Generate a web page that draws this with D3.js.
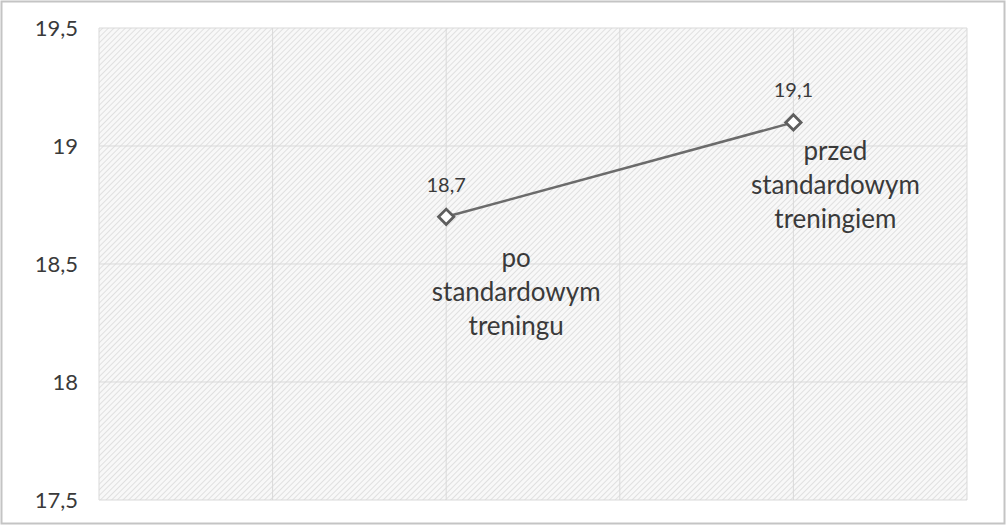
<!DOCTYPE html>
<html>
<head>
<meta charset="utf-8">
<script src="https://cdn.jsdelivr.net/npm/d3@7"></script>
<style>
  html, body { margin: 0; padding: 0; background: #fff; }
  text { font-family: Lato, "Open Sans", sans-serif; fill: #3a3a3a; }
</style>
</head>
<body>
<div id="chart"></div>
<script>
// values
const categories = ['po standardowym treningu', 'przed standardowym treningiem'];
const xValues = [2, 4];
const yValues = [18.7, 19.1];
const yTicks = [17.5, 18, 18.5, 19, 19.5];
const xTicks = [0, 1, 2, 3, 4, 5];

const width = 1007, height = 526;
const margin = { top: 28, right: 40, bottom: 26, left: 99 };

const svg = d3.select('#chart')
  .append('svg')
  .attr('width', width)
  .attr('height', height);

// outer frame
svg.append('rect')
  .attr('x', 1.5).attr('y', 1.5)
  .attr('width', width - 4).attr('height', height - 4)
  .attr('fill', '#fff')
  .attr('stroke', '#c4c4c4')
  .attr('stroke-width', 2);

// hatch pattern for the plot area
const pat = svg.append('defs').append('pattern')
  .attr('id', 'hatch')
  .attr('patternUnits', 'userSpaceOnUse')
  .attr('width', 4).attr('height', 4)
  .attr('patternTransform', 'rotate(45)');
pat.append('rect').attr('width', 4).attr('height', 4).attr('fill', '#f8f8f8');
pat.append('line')
  .attr('x1', 0).attr('y1', 0).attr('x2', 0).attr('y2', 4)
  .attr('stroke', '#e0e0e0').attr('stroke-width', 2);

const x = d3.scaleLinear().domain([0, 5]).range([margin.left, width - margin.right]);
const y = d3.scaleLinear().domain([17.5, 19.5]).range([height - margin.bottom, margin.top]);

const g = svg.append('g');

g.append('rect')
  .attr('x', x(0)).attr('y', y(19.5))
  .attr('width', x(5) - x(0)).attr('height', y(17.5) - y(19.5))
  .attr('fill', 'url(#hatch)');

// grid
g.selectAll('.hgrid')
  .data(yTicks)
  .enter()
  .append('line')
  .attr('class', 'hgrid')
  .attr('x1', x(0)).attr('x2', x(5))
  .attr('y1', d => y(d)).attr('y2', d => y(d))
  .attr('stroke', '#d9d9d9')
  .attr('stroke-width', 1);

g.selectAll('.vgrid')
  .data(xTicks)
  .enter()
  .append('line')
  .attr('class', 'vgrid')
  .attr('x1', d => x(d)).attr('x2', d => x(d))
  .attr('y1', y(17.5)).attr('y2', y(19.5))
  .attr('stroke', '#d9d9d9')
  .attr('stroke-width', 1);

// y axis labels only
const yAxis = d3.axisLeft(y)
  .tickValues(yTicks)
  .tickSize(0)
  .tickPadding(21)
  .tickFormat(d => d3.format('.1f')(d).replace('.', ',').replace(',0', ''));

const ya = svg.append('g')
  .attr('transform', `translate(${x(0)},0)`)
  .call(yAxis);
ya.select('.domain').remove();
ya.selectAll('text')
  .attr('font-size', 22)
  .style('font-family', 'Lato, "Open Sans", sans-serif')
  .attr('fill', '#3a3a3a');

const pts = xValues.map((v, i) => ({ x: v, y: yValues[i], name: categories[i] }));

// line
g.append('path')
  .datum(pts)
  .attr('fill', 'none')
  .attr('stroke', '#6b6b6b')
  .attr('stroke-width', 2.5)
  .attr('d', d3.line().x(d => x(d.x)).y(d => y(d.y)));

// diamond markers
g.selectAll('.marker')
  .data(pts)
  .enter()
  .append('path')
  .attr('class', 'marker')
  .attr('d', d3.symbol(d3.symbolDiamond2, 150))
  .attr('transform', d => `translate(${x(d.x)},${y(d.y)})`)
  .attr('fill', '#fff')
  .attr('stroke', '#5e5e5e')
  .attr('stroke-width', 2.8);

// value labels
g.selectAll('.val')
  .data(pts)
  .enter()
  .append('text')
  .attr('class', 'val')
  .attr('x', d => x(d.x))
  .attr('y', d => y(d.y) - 25)
  .attr('text-anchor', 'middle')
  .attr('font-size', 20)
  .text(d => d3.format('.1f')(d.y).replace('.', ','));

// category labels (offsets as in the original)
const labelShift = [[70, 50], [42, 38]];
const wrapLines = ['po|standardowym|treningu', 'przed|standardowym|treningiem'];

g.selectAll('.cat')
  .data(pts)
  .enter()
  .append('text')
  .attr('class', 'cat')
  .attr('text-anchor', 'middle')
  .attr('font-size', 26)
  .each(function (d, i) {
    const t = d3.select(this);
    wrapLines[i].split('|').forEach((line, j) => {
      t.append('tspan')
        .attr('x', x(d.x) + labelShift[i][0])
        .attr('y', y(d.y) + labelShift[i][1] + j * 34)
        .text(line);
    });
  });
</script>
</body>
</html>
